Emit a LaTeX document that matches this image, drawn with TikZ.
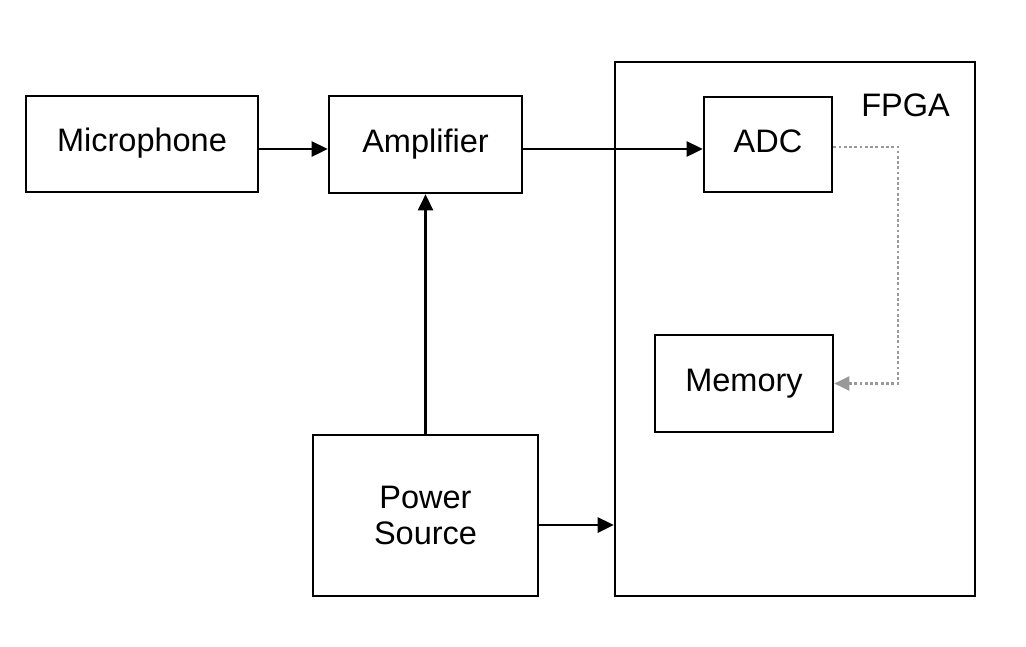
\documentclass[tikz,border=0pt]{standalone}
\usepackage{fontspec}
\setmainfont{Liberation Sans}
\usetikzlibrary{arrows.meta,positioning,calc}

\begin{document}
\begin{tikzpicture}[x=0.02cm,y=-0.02cm,->,>={Triangle[length=0.32cm,width=0.3cm]},
    line width=1.5pt,
    block/.style={draw,rectangle,align=center,inner sep=0pt,
      font=\fontsize{18.5}{21}\selectfont},
    oneline/.style={text height=13pt,text depth=4pt},
    flow/.style={dash pattern=on 1.6pt off 1.4pt,draw=black!40,line width=1.2pt}]
  \useasboundingbox (0,0) rectangle (1026,646);

  \node[block,minimum width=7.2cm,minimum height=10.68cm] (fpga) at (795,329) {};
  \node[font=\fontsize{18.5}{21}\selectfont] (fpgalabel) at (905.5,105.5) {FPGA};

  \node[block,oneline,minimum width=4.64cm,minimum height=1.92cm] (mic) at (142,144) {Microphone};
  \node[block,oneline,minimum width=3.86cm,minimum height=1.94cm] (amp) at (425.5,144.5) {Amplifier};
  \node[block,oneline,minimum width=2.56cm,minimum height=1.9cm] (adc) at (768,144.5) {ADC};
  \node[block,oneline,minimum width=3.56cm,minimum height=1.94cm] (mem) at (744,383.5) {Memory};
  \node[block,minimum width=4.5cm,minimum height=3.22cm] (pwr) at (425.5,515.5) {Power\\Source};

  \draw ([yshift=-0.1cm]mic.east) -- ([yshift=-0.1cm]mic.east -| amp.west);
  \draw ([yshift=-0.09cm]amp.east) -- ([yshift=-0.09cm]amp.east -| adc.west);
  \draw (pwr.north) -- (amp.south);
  \draw ([yshift=-0.19cm]pwr.east) -- ([yshift=-0.19cm]pwr.east -| fpga.west);
  \draw[flow,>={Triangle[length=0.3cm,width=0.28cm]},-{>[fill=black!40]}]
    ([yshift=-0.05cm]adc.east) -- ++(65,0) |- (mem.east);
\end{tikzpicture}
\end{document}
